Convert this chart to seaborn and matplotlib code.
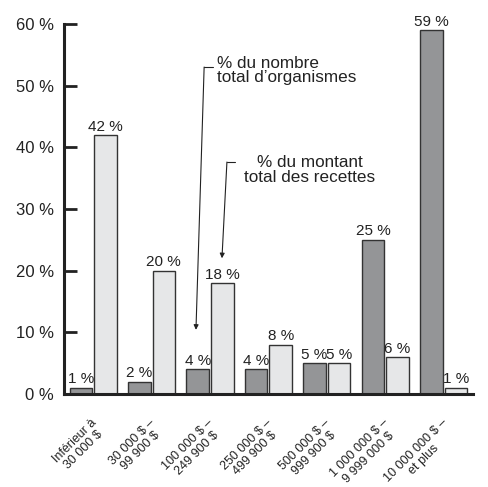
import matplotlib
matplotlib.use("Agg")
import matplotlib.pyplot as plt
from matplotlib import font_manager
from matplotlib.transforms import ScaledTranslation
import seaborn as sns
import pandas as pd

# categories de recettes
categories = [
    "Inférieur à\n30 000 $",
    "30 000 $ –\n99 900 $",
    "100 000 $ –\n249 900 $",
    "250 000 $ –\n499 900 $",
    "500 000 $ –\n999 900 $",
    "1 000 000 $ –\n9 999 000 $",
    "10 000 000 $ –\net plus",
]
pct_recettes = [1, 2, 4, 4, 5, 25, 59]        # barres foncees
pct_organismes = [42, 20, 18, 8, 5, 6, 1]     # barres claires
yticks = [0, 10, 20, 30, 40, 50, 60]

sns.set_theme(style="white")
installed = {f.name for f in font_manager.fontManager.ttflist}
fam = [f for f in ["Liberation Sans Narrow", "Liberation Sans", "DejaVu Sans"] if f in installed]
plt.rcParams["font.family"] = fam

df = pd.DataFrame({
    "cat": categories * 2,
    "val": pct_recettes + pct_organismes,
    "serie": ["recettes"] * len(categories) + ["organismes"] * len(categories),
})

fig = plt.figure(figsize=(4.88, 4.87), dpi=100)
ax = fig.add_axes([0.131, 0.191, 0.838, 0.760])

sns.barplot(data=df, x="cat", y="val", hue="serie",
            palette={"recettes": "#939598", "organismes": "#e6e7e8"},
            width=0.84, gap=0.08, edgecolor="#333333", linewidth=1,
            legend=False, ax=ax)

for cont in ax.containers:
    ax.bar_label(cont, labels=[f"{v:g} %" for v in cont.datavalues],
                 padding=1, fontsize=11, color="#222222")

ax.set_xlim(-0.5, len(categories) - 0.5)
ax.set_ylim(0, 60)
ax.set_yticks(yticks)
ax.set_yticklabels([f"{t} %" for t in yticks], fontsize=12, color="#222222")
ax.set_xlabel("")
ax.set_ylabel("")

ax.set_xticks(range(len(categories)))
ax.set_xticklabels(categories, rotation=45, ha="right", va="center",
                   rotation_mode="anchor", multialignment="center",
                   fontsize=9, color="#222222", linespacing=1.05)
ax.tick_params(axis="x", which="major", length=0, pad=22)
shift = ScaledTranslation(6 / 100, -1 / 100, fig.dpi_scale_trans)
for lab in ax.get_xticklabels():
    lab.set_transform(lab.get_transform() + shift)
ax.set_xticks([i + 0.5 for i in range(len(categories))], minor=True)
ax.tick_params(axis="x", which="minor", direction="in", length=7, width=2, color="#222222")
ax.tick_params(axis="y", direction="in", length=9, width=2, color="#222222", pad=7, left=True)

for s in ["top", "right"]:
    ax.spines[s].set_visible(False)
for s in ["left", "bottom"]:
    ax.spines[s].set_linewidth(2.2)
    ax.spines[s].set_color("#222222")

# legendes flechees
ax.text(2.12, 52.4, "% du nombre\ntotal d’organismes", fontsize=12.3,
        ha="left", va="center", color="#222222", linespacing=0.95)
ax.plot([2.05, 1.90], [53.0, 53.0], color="#222222", lw=0.8)
ax.annotate("", xy=(1.76, 10.4), xytext=(1.90, 53.0),
            arrowprops=dict(arrowstyle="-|>", color="#222222", lw=0.8,
                            mutation_scale=7, shrinkA=0, shrinkB=0))

ax.text(3.71, 36.3, "% du montant\ntotal des recettes", fontsize=12.3,
        ha="center", va="center", multialignment="center", color="#222222",
        linespacing=0.95)
ax.plot([2.43, 2.29], [37.6, 37.6], color="#222222", lw=0.8)
ax.annotate("", xy=(2.205, 22.0), xytext=(2.29, 37.6),
            arrowprops=dict(arrowstyle="-|>", color="#222222", lw=0.8,
                            mutation_scale=7, shrinkA=0, shrinkB=0))

fig.savefig("out.png", dpi=100)
